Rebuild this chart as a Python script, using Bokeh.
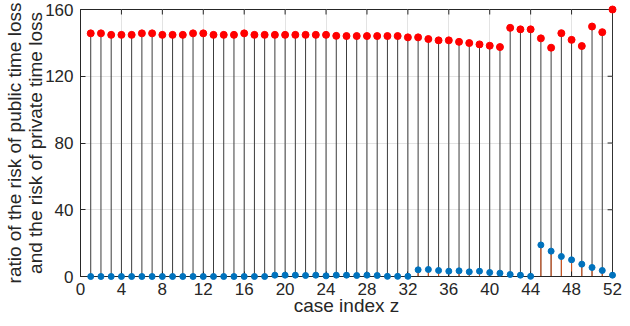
from bokeh.plotting import figure
from bokeh.models import Range1d, FixedTicker
from bokeh.embed import file_html
from bokeh.resources import INLINE

# ---- data ----
case_index = [1, 2, 3, 4, 5, 6, 7, 8, 9, 10, 11, 12, 13, 14, 15, 16, 17, 18, 19, 20,
              21, 22, 23, 24, 25, 26, 27, 28, 29, 30, 31, 32, 33, 34, 35, 36, 37, 38, 39, 40,
              41, 42, 43, 44, 45, 46, 47, 48, 49, 50, 51, 52]

ratio_upper = [145.7, 145.7, 144.8, 144.8, 144.8, 145.7, 145.7, 144.8, 144.8, 144.8,
               145.7, 145.7, 144.8, 144.8, 144.8, 145.7, 144.8, 144.8, 144.8, 144.8,
               144.8, 144.8, 144.8, 144.8, 144.2, 144.1, 144.1, 144.1, 144.1, 144.1,
               144.1, 143.3, 143.3, 142.3, 141.5, 141.5, 140.6, 139.9, 139.1, 138.3,
               137.5, 149.0, 148.1, 148.1, 142.7, 137.1, 145.8, 141.8, 138.1, 149.8,
               146.4, 160.0]

ratio_lower = [0.0, 0.0, 0.0, 0.0, 0.0, 0.0, 0.0, 0.0, 0.0, 0.0,
               0.0, 0.0, 0.0, 0.0, 0.0, 0.0, 0.0, 0.0, 0.8, 0.8,
               0.8, 0.6, 0.8, 0.4, 0.8, 0.8, 0.6, 0.8, 0.6, 0.1,
               0.1, 0.1, 4.0, 4.2, 3.6, 3.2, 3.4, 2.8, 3.2, 2.4,
               2.0, 1.2, 0.8, 0.1, 18.9, 15.2, 12.0, 10.0, 7.4, 5.4,
               3.6, 0.8]

x_ticks = [0, 4, 8, 12, 16, 20, 24, 28, 32, 36, 40, 44, 48, 52]
y_ticks = [0, 40, 80, 120, 160]

FONT = "Liberation Sans"
AXIS_COLOR = "#262626"

p = figure(width=622, height=318, output_backend="svg", toolbar_location=None,
           x_range=Range1d(0, 52), y_range=Range1d(0, 160),
           min_border_left=80, min_border_right=10, min_border_top=9,
           min_border_bottom=41)
p.background_fill_color = "white"
p.border_fill_color = "white"
p.outline_line_color = AXIS_COLOR
p.outline_line_width = 1

for ax in (p.xaxis[0], p.yaxis[0]):
    ax.axis_line_color = AXIS_COLOR
    ax.major_tick_line_color = AXIS_COLOR
    ax.major_tick_in = 5
    ax.major_tick_out = 0
    ax.minor_tick_line_color = None
    ax.major_label_text_font = FONT
    ax.major_label_text_font_size = "17px"
    ax.major_label_text_color = AXIS_COLOR
    ax.axis_label_text_font = FONT
    ax.axis_label_text_font_style = "normal"
    ax.axis_label_text_color = AXIS_COLOR

p.xaxis.ticker = FixedTicker(ticks=x_ticks)
p.yaxis.ticker = FixedTicker(ticks=y_ticks)
p.xaxis.major_label_standoff = 6
p.xaxis.axis_label_standoff = -3
p.xaxis.axis_label = "case index z"
p.xaxis.axis_label_text_font_size = "19px"
p.yaxis.major_label_standoff = 7
p.yaxis.axis_label_standoff = -4
p.yaxis.axis_label = "ratio of the risk of public time loss\nand the risk of private time loss"
p.yaxis.axis_label_text_font_size = "19px"
p.yaxis.axis_label_text_line_height = 1.0

p.xgrid.ticker = FixedTicker(ticks=x_ticks)
p.ygrid.ticker = FixedTicker(ticks=y_ticks)
p.grid.grid_line_color = "#e3e3e3"
p.grid.grid_line_width = 1

# box ticks on top and right edges (inward)
top_len = 3.0
right_len = 0.48
p.segment(x0=x_ticks, y0=[y_ticks[-1]] * len(x_ticks), x1=x_ticks,
          y1=[y_ticks[-1] - top_len] * len(x_ticks), line_color=AXIS_COLOR, line_width=1)
p.segment(x0=[x_ticks[-1]] * len(y_ticks), y0=y_ticks, x1=[x_ticks[-1] - right_len] * len(y_ticks),
          y1=y_ticks, line_color=AXIS_COLOR, line_width=1)

zeros = [0] * len(case_index)
p.segment(x0=case_index, y0=zeros, x1=case_index, y1=ratio_upper,
          line_color="#3c3c3c", line_width=1)
p.segment(x0=case_index, y0=zeros, x1=case_index, y1=ratio_lower,
          line_color="#D95319", line_width=1)
p.scatter(x=case_index, y=ratio_upper, size=7, marker="circle",
          fill_color="#FF0000", line_color="#FF0000", level="overlay")
p.scatter(x=case_index, y=ratio_lower, size=6, marker="circle",
          fill_color="#0072BD", line_color="#0072BD", level="overlay")

open("out.html", "w").write(file_html(p, INLINE))
